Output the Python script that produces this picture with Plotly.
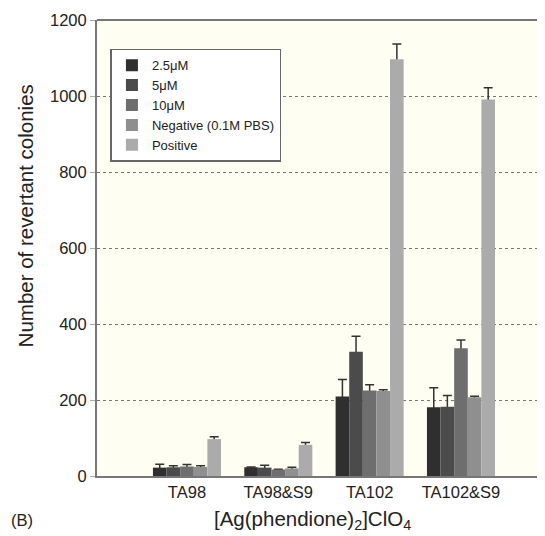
import plotly.graph_objects as go

categories = ["TA98", "TA98&S9", "TA102", "TA102&S9"]
series_names = ["2.5\u03bcM", "5\u03bcM", "10\u03bcM", "Negative (0.1M PBS)", "Positive"]

v_25 = [22, 23, 209, 181]
v_5 = [23, 22, 327, 182]
v_10 = [25, 17, 225, 336]
v_neg = [24, 20, 224, 207]
v_pos = [97, 82, 1097, 991]

e_25 = [9, 1, 45, 51]
e_5 = [4, 6, 41, 30]
e_10 = [5, 1, 15, 22]
e_neg = [3, 3, 3, 3]
e_pos = [6, 6, 40, 31]

values = [v_25, v_5, v_10, v_neg, v_pos]
errors = [e_25, e_5, e_10, e_neg, e_pos]
colors = ["#2f2f2f", "#4b4b4b", "#6e6e6e", "#8f8f8f", "#ababab"]

FONT = "Arial, Liberation Sans, sans-serif"

fig = go.Figure()

# error-bar carriers (drawn first, hidden beneath the real bars)
for i, (vals, errs) in enumerate(zip(values, errors)):
    fig.add_trace(go.Bar(
        x=categories, y=vals, offsetgroup=str(i),
        marker=dict(color="rgba(0,0,0,0)", line=dict(width=0)),
        error_y=dict(type="data", symmetric=False, array=errs, arrayminus=vals,
                     color="#333333", thickness=1.5, width=4.5),
        showlegend=False, hoverinfo="skip",
    ))

# real bars
for i, (name, vals) in enumerate(zip(series_names, values)):
    fig.add_trace(go.Bar(
        x=categories, y=vals, name=name, offsetgroup=str(i),
        marker=dict(color=colors[i], line=dict(width=0)),
    ))

fig.update_layout(
    width=537, height=528,
    margin=dict(l=89, r=0, t=12, b=60),
    paper_bgcolor="white",
    plot_bgcolor="#fefef2",
    barmode="group", bargap=0.255, bargroupgap=0,
    font=dict(family=FONT, color="#222222"),
    showlegend=True,
    legend=dict(
        x=0.03, y=0.937, xanchor="left", yanchor="top",
        bgcolor="white", bordercolor="#666666", borderwidth=1.5,
        font=dict(size=13, family=FONT, color="#222222"),
        tracegroupgap=0, itemwidth=30,
    ),
    xaxis=dict(
        type="category", range=[-0.985, 3.92],
        showline=True, linecolor="#777777", linewidth=2,
        ticks="", showgrid=False,
        tickfont=dict(size=16.5, family=FONT, color="#222222"),
    ),
    yaxis=dict(
        range=[0, 1200], tickvals=[0, 200, 400, 600, 800, 1000, 1200],
        showline=True, linecolor="#777777", linewidth=2,
        showgrid=True, gridcolor="#777777", gridwidth=1, griddash="dot",
        ticks="outside", ticklen=5, tickcolor="#aaaaaa",
        tickfont=dict(size=16.5, family=FONT, color="#222222"),
        zeroline=False,
    ),
    shapes=[dict(type="line", xref="paper", yref="paper", x0=0, x1=1, y0=1, y1=1,
                 line=dict(color="#777777", width=2))],
    annotations=[
        dict(text="Number of revertant colonies", xref="paper", yref="paper",
             x=-0.16, y=0.57, xanchor="center", yanchor="middle", textangle=-90,
             showarrow=False, font=dict(size=20.5, family=FONT, color="#222222")),
        dict(text="[Ag(phendione)<sub>2</sub>]ClO<sub>4</sub>", xref="paper", yref="paper",
             x=0.48, y=-0.0965, xanchor="center", yanchor="middle",
             showarrow=False, font=dict(size=20.5, family=FONT, color="#222222")),
        dict(text="(B)", xref="paper", yref="paper",
             x=-0.167, y=-0.0965, xanchor="center", yanchor="middle",
             showarrow=False, font=dict(size=16.5, family=FONT, color="#222222")),
    ],
)

fig.write_html("out.html")
